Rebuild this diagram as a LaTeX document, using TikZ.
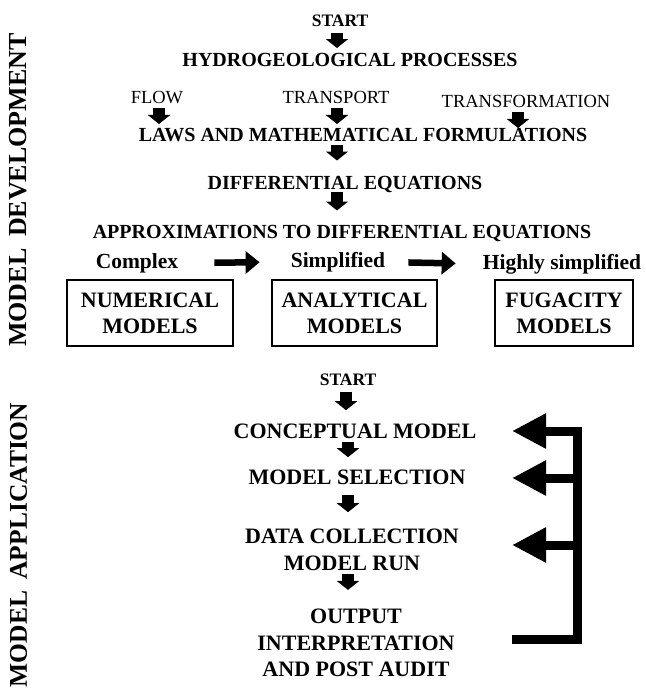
\documentclass[tikz,border=0pt]{standalone}
\usepackage{fontspec}
\setmainfont{Liberation Serif}
\usetikzlibrary{arrows.meta}
\begin{document}
\begin{tikzpicture}[x=1pt,y=-1pt,
  every node/.style={inner sep=0pt},
  st/.style={font=\bfseries\fontsize{17.5}{20}\selectfont},
  tb/.style={font=\bfseries\fontsize{20}{24}\selectfont},
  tr/.style={font=\fontsize{18.5}{22}\selectfont},
  mb/.style={font=\bfseries\fontsize{21.5}{26}\selectfont},
  lb/.style={font=\bfseries\fontsize{22}{26.5}\selectfont, align=center},
  vlab/.style={font=\bfseries\fontsize{26}{30}\selectfont, rotate=90},
  mbox/.style={draw, line width=1.2pt, minimum height=66pt, align=center,
     font=\bfseries\fontsize{22}{26}\selectfont},
  blk/.style={line width=12pt, -{Triangle[width=22pt,length=9pt]}},
  hblk/.style={line width=6.5pt, -{Triangle[width=22pt,length=14pt]}},
  fb/.style={line width=9pt, line join=miter, -{Triangle[width=33pt,length=34pt]}},
]
\useasboundingbox (0,0) rectangle (646,689);

% side labels
\node[vlab] (dev) at (18.5,190) {MODEL\hspace{0.45em}DEVELOPMENT};
\node[vlab, font=\bfseries\fontsize{25.5}{30}\selectfont] (app) at (18.5,545) {MODEL\hspace{0.45em}APPLICATION};

% model development
\node[st] (start1) at (340,21) {START};
\node[tb] (hydro) at (350,60) {HYDROGEOLOGICAL PROCESSES};
\node[tr] (flow) at (157,98) {FLOW};
\node[tr] (transp) at (336,97) {TRANSPORT};
\node[tr] (transf) at (526,101) {TRANSFORMATION};
\node[tb] (laws) at (363,135) {LAWS AND MATHEMATICAL FORMULATIONS};
\node[tb] (diff) at (345,184) {DIFFERENTIAL EQUATIONS};
\node[tb] (approx) at (342,233) {APPROXIMATIONS TO DIFFERENTIAL EQUATIONS};
\node[mb] (cplx) at (137,263) {Complex};
\node[mb] (simp) at (338,262) {Simplified};
\node[mb] (hsimp) at (562,264) {Highly simplified};
\node[mbox, minimum width=166pt] (num) at (150,313) {NUMERICAL\\MODELS};
\node[mbox, minimum width=165pt] (ana) at (354.5,313) {ANALYTICAL\\MODELS};
\node[mbox, minimum width=138pt] (fug) at (564,313) {FUGACITY\\MODELS};

\draw[blk, shorten <=6pt, shorten >=18.5pt] ([xshift=-3pt]start1.base) -- ([xshift=-3pt]start1.base |- hydro.base);
\draw[blk, shorten <=4pt, shorten >=17.5pt] ([xshift=2pt]flow.base) -- ([xshift=2pt]flow.base |- laws.base);
\draw[blk, shorten <=5pt, shorten >=17.5pt] ([xshift=1pt]transp.base) -- ([xshift=1pt]transp.base |- laws.base);
\draw[blk, shorten <=5pt, shorten >=13.5pt] ([xshift=-8pt]transf.base) -- ([xshift=-8pt]transf.base |- laws.base);
\draw[blk, shorten <=3.5pt, shorten >=28.5pt] ([xshift=1pt]transp.base |- laws.base) -- ([xshift=1pt]transp.base |- diff.base);
\draw[blk, shorten <=2.5pt, shorten >=27.5pt] ([xshift=1pt]transp.base |- diff.base) -- ([xshift=1pt]transp.base |- approx.base);
\draw[hblk, shorten <=36pt, shorten >=31pt] (cplx.east) -- (simp.west);
\draw[hblk, shorten <=23pt, shorten >=27pt] (simp.east) -- (hsimp.west);

% model application
\node[st] (start2) at (348,380) {START};
\node[lb] (conc) at (355,431) {CONCEPTUAL MODEL};
\node[lb] (msel) at (357,477) {MODEL SELECTION};
\node[lb] (data) at (352,550) {DATA COLLECTION\\MODEL RUN};
\node[lb] (out) at (356,643) {OUTPUT\\INTERPRETATION\\AND POST AUDIT};

\draw[blk, shorten <=6pt, shorten >=28pt] ([xshift=-2pt]start2.base) -- ([xshift=-2pt]start2.base |- conc.base);
\draw[blk, shorten <=4pt, shorten >=27pt] (start2.base |- conc.base) -- (start2.base |- msel.base);
\draw[blk, shorten <=10.5pt, shorten >=17pt] (start2.base |- msel.base) -- (start2.base |- data.north);
\draw[blk, shorten <=3pt, shorten >=19pt] (start2.base |- data.south) -- (start2.base |- out.north);

% feedback
\coordinate (fbBot) at (512,639);
\coordinate (fbTop) at (577,431);
\coordinate (fbMid) at (577,478);
\coordinate (fbLow) at (577,545);
\coordinate (tip1) at (512,431);
\coordinate (tip2) at (512,478);
\coordinate (tip3) at (512,545);
\draw[fb] (fbBot) -| (fbTop) -- (tip1);
\draw[fb] (fbMid) -- (tip2);
\draw[fb] (fbLow) -- (tip3);
\end{tikzpicture}
\end{document}
